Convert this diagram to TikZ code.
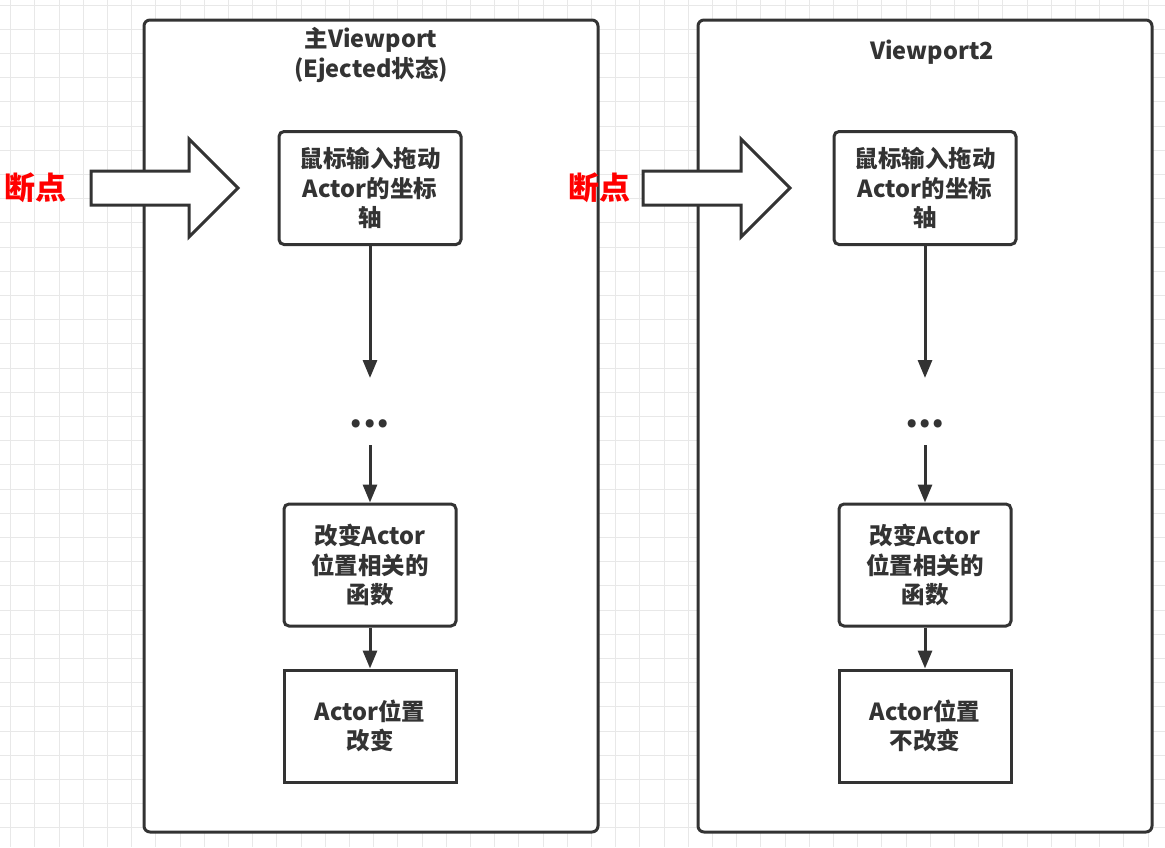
\documentclass[tikz,border=0pt]{standalone}
\usepackage{fontspec}
\setmainfont{Noto Sans CJK SC}
\usetikzlibrary{arrows.meta}
\definecolor{ink}{HTML}{333333}
\definecolor{gridc}{HTML}{E8E8E8}
\tikzset{
  container/.style={draw=ink, line width=3pt, fill=white, rounded corners=6pt},
  procbox/.style={draw=ink, line width=3pt, fill=white, rounded corners=5pt, align=center,
    text=ink, font=\fontsize{23.5}{29.5}\selectfont\bfseries, inner sep=0pt},
  sqbox/.style={procbox, rounded corners=0pt},
  titletext/.style={align=center, text=ink, font=\fontsize{23.5}{30}\selectfont\bfseries, inner sep=0pt},
  bpoint/.style={text=red, font=\fontsize{31}{34}\selectfont\bfseries, inner sep=0pt},
  blockarrow/.style={draw=ink, line width=3pt, fill=white, line join=miter},
  flow/.style={draw=ink, line width=3pt, -{Triangle[length=18pt,width=14pt]}},
  dotstext/.style={text=ink, font=\fontsize{38}{38}\selectfont\bfseries, inner sep=0pt, anchor=base}
}
\begin{document}
\begin{tikzpicture}[x=1pt,y=-1pt]
\useasboundingbox (0,0) rectangle (1165,847);
\fill[white] (0,0) rectangle (1165,847);
% grid
\foreach \i in {0,...,48} {
  \draw[gridc, line width=1pt] ({10.7+24.2*\i},0) -- ({10.7+24.2*\i},847);
}
\foreach \j in {0,...,35} {
  \draw[gridc, line width=1pt] (0,{5+24.2*\j}) -- (1165,{5+24.2*\j});
}
% containers
\draw[container] (144,20) rectangle (598,832);
\draw[container] (698,20) rectangle (1152,832);
% titles
\node[titletext] (titleL) at (371,55) {主Viewport\\(Ejected状态)};
\node[titletext] (titleR) at (932,52) {Viewport2};
% block arrows
\draw[blockarrow] (91,171) -- (189,171) -- (189,139) -- (238,188) -- (189,237) -- (189,205) -- (91,205) -- cycle;
\draw[blockarrow] (643,171) -- (741,171) -- (741,139) -- (790,188) -- (741,237) -- (741,205) -- (643,205) -- cycle;
\node[bpoint] (bpL) at (36,188) {断点};
\node[bpoint] (bpR) at (599,188) {断点};
% left column
\node[procbox, minimum width=182pt, minimum height=113pt] (l1) at (370,188) {鼠标输入拖动\\Actor的坐标\\轴};
\coordinate (l1end) at (370,378);
\node[dotstext] (ldots) at (370,427) {...};
\coordinate (l2start) at (370,445);
\node[procbox, minimum width=172pt, minimum height=122pt] (l3) at (370,565) {改变Actor\\位置相关的\\函数};
\node[sqbox, minimum width=172pt, minimum height=112pt] (l4) at (370,726) {Actor位置\\改变};
\draw[flow] (l1.south) -- (l1end);
\draw[flow] (l2start) -- (l3.north);
\draw[flow] (l3.south) -- (l4.north);
% right column
\node[procbox, minimum width=182pt, minimum height=113pt] (r1) at (925,188) {鼠标输入拖动\\Actor的坐标\\轴};
\coordinate (r1end) at (925,378);
\node[dotstext] (rdots) at (925,427) {...};
\coordinate (r2start) at (925,445);
\node[procbox, minimum width=172pt, minimum height=122pt] (r3) at (925,565) {改变Actor\\位置相关的\\函数};
\node[sqbox, minimum width=172pt, minimum height=112pt] (r4) at (925,726) {Actor位置\\不改变};
\draw[flow] (r1.south) -- (r1end);
\draw[flow] (r2start) -- (r3.north);
\draw[flow] (r3.south) -- (r4.north);
\end{tikzpicture}
\end{document}
